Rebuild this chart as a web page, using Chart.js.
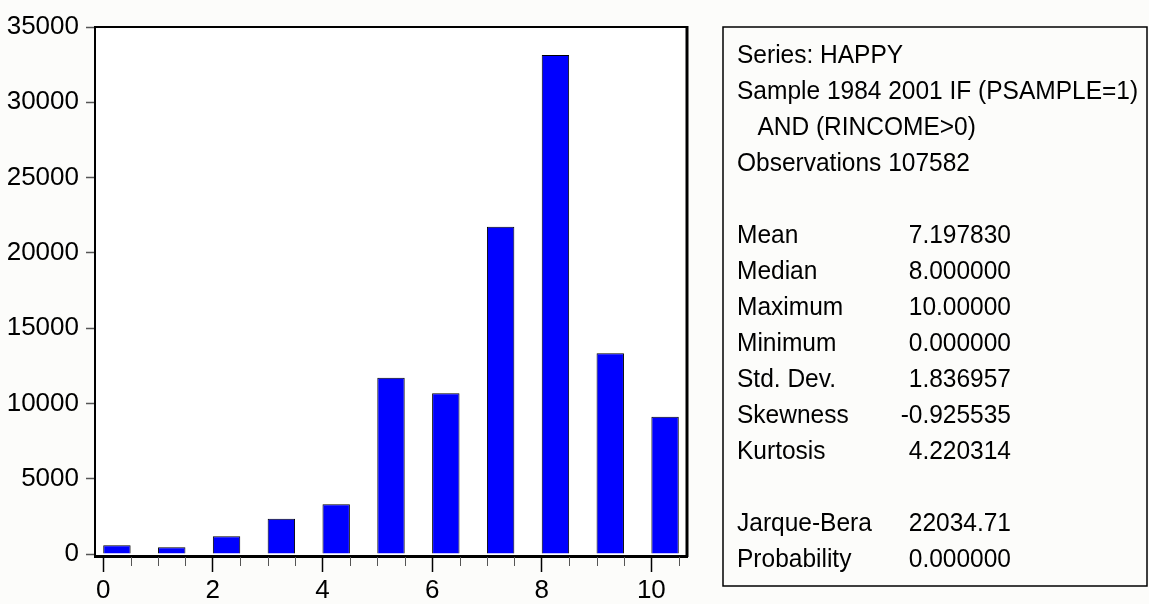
<!DOCTYPE html>
<html>
<head>
<meta charset="utf-8">
<script src="https://cdn.jsdelivr.net/npm/chart.js@4.4.1/dist/chart.umd.min.js"></script>
<style>
  html, body { margin: 0; padding: 0; background: #fcfcfa; }
  #wrap { width: 1149px; height: 604px; position: relative; }
</style>
</head>
<body>
<div id="wrap"><canvas id="hist"></canvas></div>
<script>
// histogram of HAPPY, bins start at each integer
const bins = [0, 1, 2, 3, 4, 5, 6, 7, 8, 9, 10];
const counts = [580, 445, 1175, 2345, 3300, 11710, 10670, 21735, 33140, 13330, 9120];
const xTickLabels = [0, 2, 4, 6, 8, 10];
const yTickLabels = [0, 5000, 10000, 15000, 20000, 25000, 30000, 35000];

const statHeader = ["Series: HAPPY", "Sample 1984 2001 IF (PSAMPLE=1)", "   AND (RINCOME>0)", "Observations 107582"];
const statNames = ["Mean", "Median", "Maximum", "Minimum", "Std. Dev.", "Skewness", "Kurtosis"];
const statValues = ["7.197830", "8.000000", "10.00000", "0.000000", "1.836957", "-0.925535", "4.220314"];
const testNames = ["Jarque-Bera", "Probability"];
const testValues = ["22034.71", "0.000000"];

const tickFont = { family: "'Liberation Sans Narrow', 'Liberation Sans', Arial, sans-serif", size: 26 };

const framePlugin = {
    id: "frame",
    beforeDraw(chart) {
        const { ctx, chartArea: a } = chart;
        ctx.save();
        ctx.fillStyle = "#fff";
        ctx.fillRect(a.left, a.top, a.right - a.left, a.bottom - a.top);
        ctx.restore();
    },
    afterDraw(chart) {
        const { ctx, chartArea: a } = chart;
        const x = chart.scales.x;
        ctx.save();
        // top and right edges of the frame
        ctx.strokeStyle = "#000";
        ctx.lineWidth = 2;
        ctx.beginPath();
        ctx.moveTo(a.left, a.top);
        ctx.lineTo(a.right, a.top);
        ctx.stroke();
        ctx.lineWidth = 3;
        ctx.beginPath();
        ctx.moveTo(a.right, a.top - 1);
        ctx.lineTo(a.right, a.bottom + 1);
        ctx.stroke();

        // minor ticks every 0.5
        ctx.strokeStyle = "#555";
        ctx.lineWidth = 1;
        for (let v = 0.5; v <= 10.5; v += 0.5) {
            if (v % 2 === 0) continue;
            const px = Math.round(x.getPixelForValue(v)) + 0.5;
            ctx.beginPath();
            ctx.moveTo(px, a.bottom + 1);
            ctx.lineTo(px, a.bottom + 10);
            ctx.stroke();
        }

        // statistics box
        ctx.strokeStyle = "#000";
        ctx.lineWidth = 1.5;
        ctx.strokeRect(723, 27, 424, 559);
        ctx.fillStyle = "#000";
        ctx.font = "25px 'Liberation Sans', Arial, sans-serif";
        ctx.textBaseline = "middle";
        const lineY = i => 56.5 + 36 * i;
        const put = (text, px, py, align) => {
            ctx.save();
            ctx.translate(px, py);
            ctx.scale(0.98, 1);
            ctx.textAlign = align;
            ctx.fillText(text, 0, 0);
            ctx.restore();
        };
        statHeader.forEach((t, i) => put(t, 737, lineY(i), "left"));
        statNames.forEach((t, i) => {
            put(t, 737, lineY(5 + i), "left");
            put(statValues[i], 1011, lineY(5 + i), "right");
        });
        testNames.forEach((t, i) => {
            put(t, 737, lineY(13 + i), "left");
            put(testValues[i], 1011, lineY(13 + i), "right");
        });
        ctx.restore();
    }
};

new Chart(document.getElementById("hist").getContext("2d"), {
    type: "bar",
    data: {
        datasets: [{
            data: bins.map((b, i) => ({ x: b, y: counts[i] })),
            xAxisID: "xb",
            backgroundColor: "#0000ff",
            borderColor: "#000",
            borderWidth: 1,
            barPercentage: 0.5,
            categoryPercentage: 1
        }]
    },
    options: {
        responsive: true,
        maintainAspectRatio: false,
        animation: false,
        layout: { padding: { top: 27, right: 462, left: 0, bottom: 0 } },
        plugins: {
            legend: { display: false },
            tooltip: { enabled: false }
        },
        scales: {
            // hidden axis shifted by a quarter bin so each bar covers [i, i+0.5]
            xb: {
                type: "linear",
                display: false,
                offset: false,
                min: -0.4,
                max: 10.4,
                grid: { offset: false }
            },
            x: {
                type: "linear",
                position: "bottom",
                offset: false,
                min: -0.15,
                max: 10.65,
                afterFit: s => { s.height = 48; },
                afterBuildTicks: s => { s.ticks = xTickLabels.map(v => ({ value: v })); },
                ticks: { color: "#000", font: tickFont, padding: 3, maxRotation: 0, autoSkip: false },
                grid: { offset: false, drawOnChartArea: false, tickLength: 16, tickColor: "#000", tickWidth: 1.5 },
                border: { color: "#000", width: 3 }
            },
            y: {
                min: -130,
                max: 35000,
                afterFit: s => { s.width = 95; },
                afterBuildTicks: s => { s.ticks = yTickLabels.map(v => ({ value: v })); },
                ticks: { color: "#000", font: tickFont, padding: 7, callback: v => String(v) },
                grid: { drawOnChartArea: false, tickLength: 9, tickColor: "#555", tickWidth: 1.5 },
                border: { color: "#000", width: 2 }
            }
        }
    },
    plugins: [framePlugin]
});
</script>
</body>
</html>
